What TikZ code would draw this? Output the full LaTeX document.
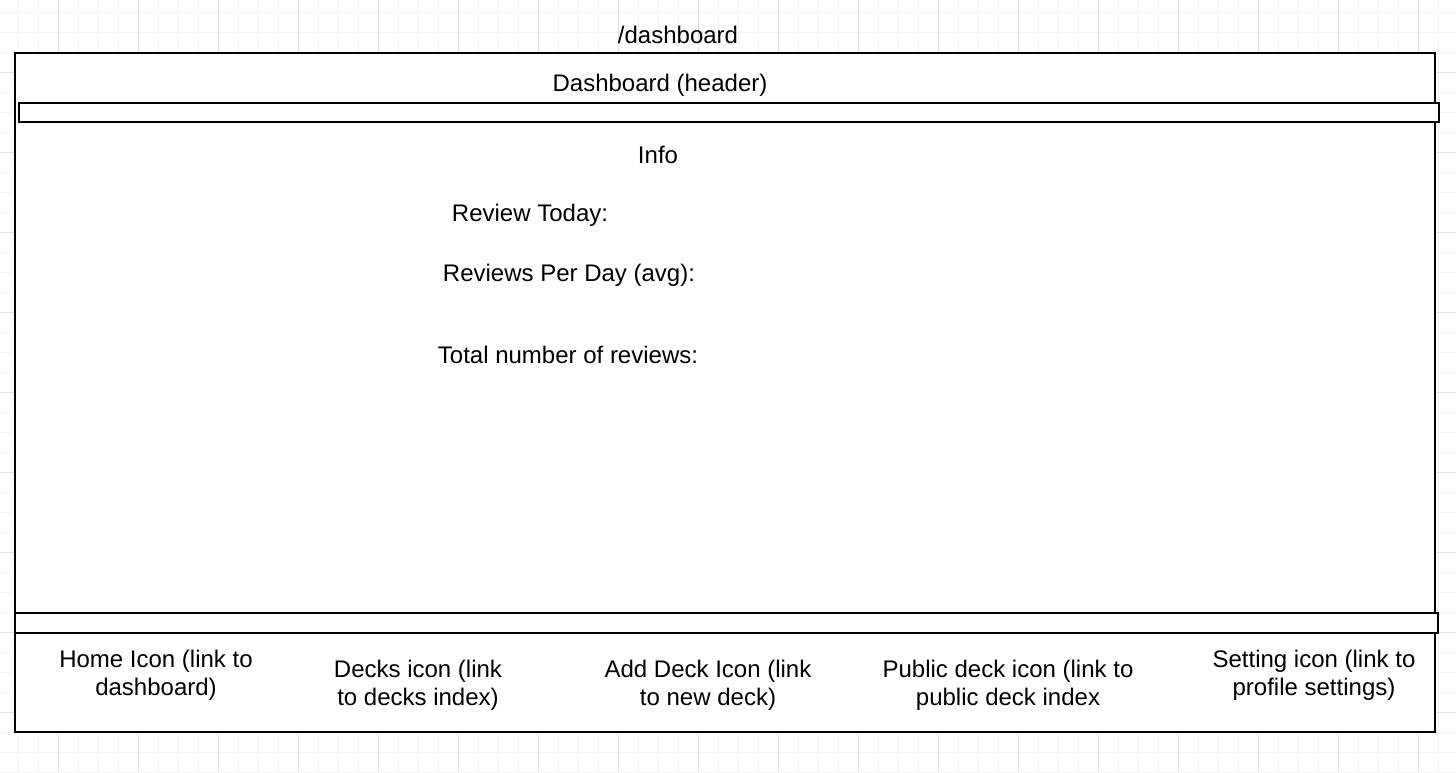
\documentclass[tikz,border=0pt]{standalone}
\usepackage{fontspec}
\setmainfont{Liberation Sans}
\begin{document}
\begin{tikzpicture}[x=0.75pt,y=-0.75pt,every path/.style={line width=1.5pt}]
  \tikzset{lbl/.style={font=\fontsize{18}{21}\selectfont,inner sep=0pt,align=center}};
  \tikzset{minorgrid/.style={draw=black!4,line width=0.75pt},majorgrid/.style={draw=black!11,line width=0.75pt}};
  \useasboundingbox (0,0) rectangle (1456,772);
  % background grid
  \foreach \x in {18,38,...,1450} \draw[minorgrid] (\x,0) -- (\x,772);
  \foreach \y in {12,32,...,772} \draw[minorgrid] (0,\y) -- (1456,\y);
  \foreach \x in {58,138,...,1450} \draw[majorgrid] (\x,0) -- (\x,772);
  \foreach \y in {72,152,...,772} \draw[majorgrid] (0,\y) -- (1456,\y);
  % page frame and bars
  \draw[fill=white] (15,53) rectangle (1435,732);
  \draw[fill=white] (19,103) rectangle (1439,122);
  \draw[fill=white] (15,613) rectangle (1438,633);
  \node[lbl] (route) at (678,35) {/dashboard};
  \node[lbl] (header) at (660,85) {Dashboard (header)};
  \node[lbl] (info) at (658,155) {Info};
  \node[lbl] (today) at (530,215) {Review Today:};
  \node[lbl] (perday) at (569,275) {Reviews Per Day (avg):};
  \node[lbl] (total) at (568,355) {Total number of reviews:};
  \node[lbl] (home) at (156,675) {Home Icon (link to\\dashboard)};
  \node[lbl] (decks) at (418,685) {Decks icon (link\\to decks index)};
  \node[lbl] (adddeck) at (708,685) {Add Deck Icon (link\\to new deck)};
  \node[lbl] (public) at (1008,685) {Public deck icon (link to\\public deck index};
  \node[lbl] (setting) at (1314,675) {Setting icon (link to\\profile settings)};
\end{tikzpicture}
\end{document}
